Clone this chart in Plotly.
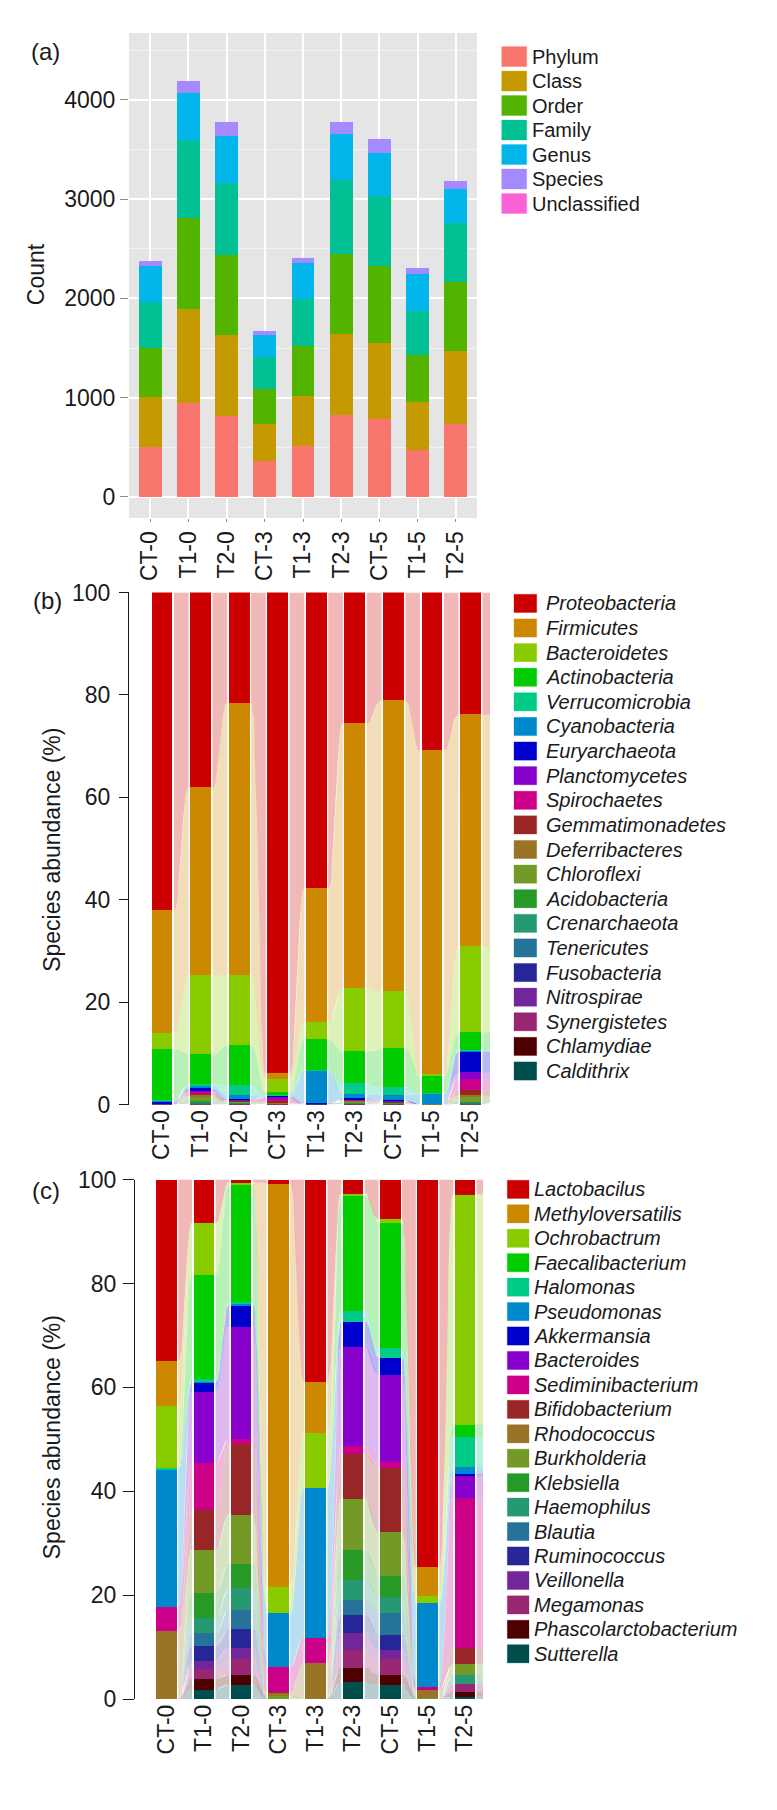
import numpy as np
import plotly.graph_objects as go

# ---------------- data ----------------
samples = ["CT-0", "T1-0", "T2-0", "CT-3", "T1-3", "T2-3", "CT-5", "T1-5", "T2-5"]

# panel (a): counts per taxonomic level
levels = ["Phylum", "Class", "Order", "Family", "Genus", "Species", "Unclassified"]
count_phylum = [503, 951, 815, 367, 511, 823, 782, 477, 735]
count_class = [503, 941, 812, 364, 506, 819, 768, 478, 738]
count_order = [496, 918, 805, 360, 504, 808, 779, 474, 694]
count_family = [459, 786, 734, 319, 470, 738, 701, 448, 595]
count_genus = [360, 470, 470, 224, 363, 463, 437, 367, 342]
count_species = [55, 118, 136, 37, 56, 129, 140, 59, 80]
count_unclassified = [0, 0, 0, 0, 0, 0, 0, 0, 0]
level_colors = ["#F8766D", "#C49A00", "#53B400", "#00C094", "#00B6EB", "#A58AFF", "#FB61D7"]

# panel (b): phylum relative abundance (%)
phyla = ["Proteobacteria", "Firmicutes", "Bacteroidetes", "Actinobacteria", "Verrucomicrobia",
         "Cyanobacteria", "Euryarchaeota", "Planctomycetes", "Spirochaetes", "Gemmatimonadetes",
         "Deferribacteres", "Chloroflexi", "Acidobacteria", "Crenarchaeota", "Tenericutes",
         "Fusobacteria", "Nitrospirae", "Synergistetes", "Chlamydiae", "Caldithrix"]
proteobacteria = [62.1, 38.1, 21.6, 94.0, 57.9, 25.6, 21.1, 30.9, 23.9]
firmicutes = [24.1, 36.7, 53.2, 1.0, 26.1, 51.7, 56.8, 63.3, 45.3]
bacteroidetes = [3.1, 15.5, 13.7, 2.7, 3.3, 12.4, 11.2, 0.3, 16.7]
actinobacteria = [10.0, 5.7, 7.7, 0.5, 6.0, 6.2, 7.5, 3.4, 3.5]
verrucomicrobia = [0.05, 0.4, 2.0, 0.1, 0.1, 2.1, 1.6, 0.05, 0.15]
cyanobacteria = [0.2, 0.5, 0.75, 0.1, 6.4, 0.9, 1.0, 2.0, 0.15]
euryarchaeota = [0.3, 0.5, 0.2, 0.1, 0.05, 0.2, 0.1, 0.01, 4.1]
planctomycetes = [0.02, 0.2, 0.05, 0.4, 0.02, 0.1, 0.1, 0.005, 1.2]
spirochaetes = [0.02, 0.3, 0.1, 0.5, 0.02, 0.1, 0.1, 0.005, 2.25]
gemmatimonadetes = [0.02, 0.3, 0.1, 0.3, 0.02, 0.1, 0.1, 0.005, 0.95]
deferribacteres = [0.02, 0.3, 0.1, 0.1, 0.02, 0.1, 0.05, 0.005, 0.5]
chloroflexi = [0.02, 0.8, 0.2, 0.05, 0.02, 0.2, 0.1, 0.005, 0.8]
acidobacteria = [0.01, 0.3, 0.1, 0.03, 0.01, 0.1, 0.05, 0.005, 0.15]
crenarchaeota = [0.01, 0.1, 0.05, 0.02, 0.01, 0.05, 0.05, 0.002, 0.1]
tenericutes = [0.01, 0.1, 0.05, 0.02, 0.01, 0.05, 0.04, 0.002, 0.08]
fusobacteria = [0.01, 0.05, 0.03, 0.02, 0.01, 0.05, 0.03, 0.002, 0.05]
nitrospirae = [0.01, 0.05, 0.03, 0.02, 0.005, 0.03, 0.03, 0.002, 0.05]
synergistetes = [0.01, 0.05, 0.02, 0.02, 0.005, 0.02, 0.02, 0.001, 0.04]
chlamydiae = [0.01, 0.03, 0.01, 0.01, 0.005, 0.01, 0.02, 0.001, 0.02]
caldithrix = [0.01, 0.02, 0.01, 0.01, 0.005, 0.01, 0.01, 0.001, 0.01]

# panel (c): genus relative abundance (%)
genera = ["Lactobacilus", "Methyloversatilis", "Ochrobactrum", "Faecalibacterium", "Halomonas",
          "Pseudomonas", "Akkermansia", "Bacteroides", "Sediminibacterium", "Bifidobacterium",
          "Rhodococcus", "Burkholderia", "Klebsiella", "Haemophilus", "Blautia",
          "Ruminococcus", "Veillonella", "Megamonas", "Phascolarctobacterium", "Sutterella"]
lactobacilus = [34.9, 8.3, 0.5, 0.7, 38.8, 2.6, 7.6, 74.6, 2.8]
methyloversatilis = [8.6, 0, 0, 77.6, 9.9, 0, 0, 5.4, 0]
ochrobactrum = [12.0, 9.9, 0.3, 5.1, 10.6, 0.5, 0.7, 1.5, 44.3]
faecalibacterium = [0, 20.2, 22.7, 0, 0, 22.1, 24.1, 0, 2.4]
halomonas = [0.2, 0.3, 0.3, 0, 0, 2.1, 1.8, 0, 5.8]
pseudomonas = [26.5, 0.2, 0.3, 10.3, 28.8, 0, 0, 16.2, 1.3]
akkermansia = [0, 1.9, 4.2, 0, 0, 4.9, 3.4, 0, 0.4]
bacteroides = [0, 13.6, 21.5, 0, 0, 19.0, 16.6, 0, 4.2]
sediminibacterium = [4.7, 9.2, 1.0, 4.9, 4.9, 1.5, 1.3, 0.4, 28.9]
bifidobacterium = [0, 7.6, 13.6, 0.1, 0, 8.7, 12.3, 0, 3.1]
rhodococcus = [13.1, 0, 0, 0.7, 7.0, 0, 0, 1.7, 0]
burkholderia = [0, 8.3, 9.5, 0.6, 0, 9.8, 8.5, 0.2, 2.1]
klebsiella = [0, 4.9, 4.6, 0, 0, 5.8, 3.9, 0, 0]
haemophilus = [0, 2.8, 4.2, 0, 0, 3.9, 3.2, 0, 1.7]
blautia = [0, 2.6, 3.8, 0, 0, 2.9, 4.2, 0, 0]
ruminococcus = [0, 2.8, 3.6, 0, 0, 3.4, 2.8, 0, 0]
veillonella = [0, 1.5, 2.2, 0, 0, 3.2, 1.9, 0, 0]
megamonas = [0, 2.0, 3.0, 0, 0, 3.5, 3.0, 0, 1.5]
phascolarctobacterium = [0, 2.0, 1.9, 0, 0, 2.8, 1.9, 0, 1.0]
sutterella = [0, 1.9, 2.8, 0, 0, 3.3, 2.8, 0, 0.5]

taxa_colors = ["#CC0000", "#CC8800", "#88CC00", "#00CC00", "#00CC88", "#0088CC", "#0000CC",
               "#8800CC", "#CC0088", "#992626", "#997326", "#739926", "#269926", "#269973",
               "#267399", "#262699", "#732699", "#992673", "#4D0000", "#004D4D"]

count_values = [count_phylum, count_class, count_order, count_family, count_genus,
                count_species, count_unclassified]
phylum_values = [proteobacteria, firmicutes, bacteroidetes, actinobacteria, verrucomicrobia,
                 cyanobacteria, euryarchaeota, planctomycetes, spirochaetes, gemmatimonadetes,
                 deferribacteres, chloroflexi, acidobacteria, crenarchaeota, tenericutes,
                 fusobacteria, nitrospirae, synergistetes, chlamydiae, caldithrix]
genus_values = [lactobacilus, methyloversatilis, ochrobactrum, faecalibacterium, halomonas,
                pseudomonas, akkermansia, bacteroides, sediminibacterium, bifidobacterium,
                rhodococcus, burkholderia, klebsiella, haemophilus, blautia, ruminococcus,
                veillonella, megamonas, phascolarctobacterium, sutterella]

# ---------------- helpers ----------------
FONT = "Liberation Sans, Arial, Helvetica, sans-serif"
W, H = 777, 1810
TXT = "#1a1a1a"


def px(x):
    return x / W


def py(y):
    return 1 - y / H


def rgba(hex_color, a):
    h = hex_color.lstrip("#")
    r, g, b = int(h[0:2], 16), int(h[2:4], 16), int(h[4:6], 16)
    return f"rgba({r},{g},{b},{a})"


def smooth(t):
    return t * t * t * (t * (t * 6 - 15) + 10)


fig = go.Figure()
xs = list(range(len(samples)))

# ---------------- panel (a) ----------------
for name, vals, col in zip(levels, count_values, level_colors):
    fig.add_trace(go.Bar(x=xs, y=vals, width=0.6, name=name, marker=dict(color=col, line=dict(width=0)),
                         showlegend=False, xaxis="x", yaxis="y"))


# ---------------- panels (b), (c) with flows ----------------
def add_flow_panel(names, values, colors, xa, ya, width, xmax, gap=0.04, alpha=0.28):
    n = len(samples)
    order = list(range(len(names)))[::-1]  # last series at bottom
    base = np.zeros(n)
    bounds = {}
    for k in order:
        v = np.array(values[k], dtype=float)
        bounds[k] = (base.copy(), base + v)
        base = base + v
    t = np.linspace(0, 1, 30)
    for k in order:
        lo, hi = bounds[k]
        fx, fy = [], []
        for i in range(n):
            last = i == n - 1
            j = i if last else i + 1
            if (hi[i] - lo[i]) <= 0 and (hi[j] - lo[j]) <= 0:
                continue
            x0 = i + width / 2 + gap
            x1 = xmax if last else (i + 1 - width / 2 - gap)
            s = np.zeros_like(t) if last else smooth(t)
            xx = x0 + (x1 - x0) * t
            top = hi[i] + (hi[j] - hi[i]) * s
            bot = lo[i] + (lo[j] - lo[i]) * s
            fx += list(xx) + list(xx[::-1]) + [None]
            fy += list(top) + list(bot[::-1]) + [None]
        if fx:
            fig.add_trace(go.Scatter(x=fx, y=fy, mode="lines", line=dict(width=0), fill="toself",
                                     fillcolor=rgba(colors[k], alpha), hoverinfo="skip",
                                     showlegend=False, xaxis=xa, yaxis=ya))
    for k in order:
        fig.add_trace(go.Bar(x=xs, y=values[k], width=width, name=names[k],
                             marker=dict(color=colors[k], line=dict(width=0)),
                             showlegend=False, xaxis=xa, yaxis=ya))


# geometry (pixels)
A_L, A_R, A_T, A_B = 129, 477, 20.3, 512.4
B_L, B_R, B_T, B_B = 129, 490, 587.9, 1107.5
C_L, C_R, C_T, C_B = 135, 483, 1183.6, 1710.6

b_c0, b_du = 162.0, 38.56
c_c0, c_du = 166.5, 37.3
b_range = [(B_L - b_c0) / b_du, (B_R - b_c0) / b_du]
c_range = [(C_L - c_c0) / c_du, (C_R - c_c0) / c_du]

add_flow_panel(phyla, phylum_values, taxa_colors, "x2", "y2", 0.54, b_range[1])
add_flow_panel(genera, genus_values, taxa_colors, "x3", "y3", 0.55, c_range[1])

# ---------------- axes ----------------
tickfont = dict(family=FONT, size=23, color=TXT)

fig.update_layout(
    width=W, height=H, autosize=False,
    margin=dict(l=0, r=0, t=0, b=0),
    paper_bgcolor="white", plot_bgcolor="rgba(0,0,0,0)",
    barmode="stack", bargap=0,
    font=dict(family=FONT, color=TXT),
    xaxis=dict(domain=[px(A_L), px(A_R)], range=[-0.55, 8.55], tickmode="array", tickvals=xs,
               ticktext=samples, tickangle=-90, tickfont=tickfont, showgrid=True,
               gridcolor="white", gridwidth=1.8, zeroline=False, showline=False,
               ticks="outside", ticklen=3, tickcolor="#8c8c8c", anchor="y"),
    yaxis=dict(domain=[py(A_B), py(A_T)], range=[-212, 4672], tick0=0, dtick=1000,
               tickfont=tickfont, showgrid=True, gridcolor="white", gridwidth=1.8,
               minor=dict(dtick=500, showgrid=True, gridcolor="#F3F3F3", gridwidth=0.8),
               zeroline=False, showline=False, ticks="outside", ticklen=8, tickcolor="#8c8c8c",
               anchor="x"),
    xaxis2=dict(domain=[px(B_L), px(B_R)], range=b_range, tickmode="array", tickvals=xs,
                ticktext=samples, tickangle=-90, tickfont=tickfont, showgrid=False,
                zeroline=False, showline=False, ticks="", anchor="y2"),
    yaxis2=dict(domain=[py(B_B), py(B_T)], range=[0, 100], tick0=0, dtick=20, tickfont=tickfont,
                showgrid=False, zeroline=False, showline=True, linecolor="#1a1a1a", linewidth=1,
                ticks="outside", ticklen=9, tickcolor="#1a1a1a", anchor="x2",
                ticklabelstandoff=4),
    xaxis3=dict(domain=[px(C_L), px(C_R)], range=c_range, tickmode="array", tickvals=xs,
                ticktext=samples, tickangle=-90, tickfont=tickfont, showgrid=False,
                zeroline=False, showline=False, ticks="", anchor="y3"),
    yaxis3=dict(domain=[py(C_B), py(C_T)], range=[0, 100], tick0=0, dtick=20, tickfont=tickfont,
                showgrid=False, zeroline=False, showline=True, linecolor="#1a1a1a", linewidth=1,
                ticks="outside", ticklen=11, tickcolor="#1a1a1a", anchor="x3",
                ticklabelstandoff=2),
)

# grey panel background for (a)
fig.add_shape(type="rect", xref="x domain", yref="y domain", x0=0, x1=1, y0=0, y1=1,
              fillcolor="#E5E5E5", line=dict(width=0), layer="below")


# ---------------- titles / labels ----------------
def ann(text, x, y, size=22, angle=0, xanchor="center"):
    fig.add_annotation(text=text, x=px(x), y=py(y), xref="paper", yref="paper", showarrow=False,
                       xanchor=xanchor, yanchor="middle", textangle=angle,
                       font=dict(family=FONT, size=size, color=TXT))


ann("(a)", 45, 39, size=24)
ann("(b)", 47, 596, size=24)
ann("(c)", 46, 1195, size=24)
ann("Count", 36, 265, size=23, angle=-90)
ann("Species abundance (%)", 52, 849, size=23, angle=-90)
ann("Species abundance (%)", 52, 1445, size=23, angle=-90)


# ---------------- legends ----------------
def add_legend(names, colors, sq0, sq1, y_first, dy, h_sq, x_text, italic):
    for k, (nm, col) in enumerate(zip(names, colors)):
        yc = y_first + k * dy
        fig.add_shape(type="rect", xref="paper", yref="paper", x0=px(sq0), x1=px(sq1),
                      y0=py(yc + h_sq / 2), y1=py(yc - h_sq / 2), fillcolor=col,
                      line=dict(width=0.6, color=rgba(col, 0.5)))
        fig.add_annotation(text=(f"<i>{nm}</i>" if italic else nm), x=px(x_text), y=py(yc),
                           xref="paper", yref="paper", showarrow=False, xanchor="left",
                           yanchor="middle", font=dict(family=FONT, size=20, color=TXT))


add_legend(levels, level_colors, 501.7, 526.7, 44.2, 24.85, 20.3, 529.5, False)
add_legend(phyla, taxa_colors, 514, 536.7, 599, 24.97, 18.5, 543.5, True)
add_legend(genera, taxa_colors, 507.3, 529, 1193.5, 24.8, 18.5, 531.5, True)

fig.write_html("out.html", config={"displayModeBar": False},
               post_script="document.body.style.margin='0px';")
